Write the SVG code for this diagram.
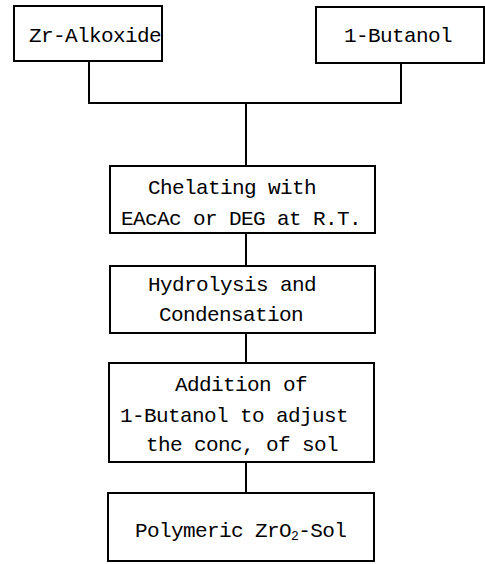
<svg xmlns="http://www.w3.org/2000/svg" width="485" height="564" viewBox="0 0 485 564">
<style>
.box{fill:#fff;stroke:#000;stroke-width:2}
.ln{fill:none;stroke:#000;stroke-width:2}
text{font-family:"Liberation Mono","DejaVu Sans Mono",monospace;font-size:21px;letter-spacing:-0.6px;fill:#000}
.sub{font-size:13px}
</style>
<rect width="485" height="564" fill="#fff"/>
<g id="connectors">
<polyline class="ln" points="89,62 89,103 401,103 401,64"/>
<line class="ln" x1="246" y1="103" x2="246" y2="166"/>
<line class="ln" x1="246" y1="233" x2="246" y2="266"/>
<line class="ln" x1="246" y1="333" x2="246" y2="363"/>
<line class="ln" x1="246" y1="462" x2="246" y2="493"/>
</g>
<g id="zr-alkoxide">
<rect class="box" x="14" y="6" width="148" height="55"/>
<text x="29" y="42">Zr-Alkoxide</text>
</g>
<g id="butanol">
<rect class="box" x="316" y="7" width="168" height="56"/>
<text x="344" y="42">1-Butanol</text>
</g>
<g id="chelating">
<rect class="box" x="110" y="166" width="265" height="67"/>
<text x="148" y="194">Chelating with</text>
<text x="121" y="225">EAcAc or DEG at R.T.</text>
</g>
<g id="hydrolysis">
<rect class="box" x="110" y="266" width="265" height="67"/>
<text x="148" y="291">Hydrolysis and</text>
<text x="159" y="321">Condensation</text>
</g>
<g id="addition">
<rect class="box" x="109" y="363" width="265" height="99"/>
<text x="175" y="391">Addition of</text>
<text x="120" y="422">1-Butanol to adjust</text>
<text x="146" y="451">the conc, of sol</text>
</g>
<g id="polymeric">
<rect class="box" x="108" y="493" width="266" height="68"/>
<text x="135" y="537">Polymeric ZrO<tspan class="sub" dy="3">2</tspan><tspan dy="-3">-Sol</tspan></text>
</g>
</svg>
